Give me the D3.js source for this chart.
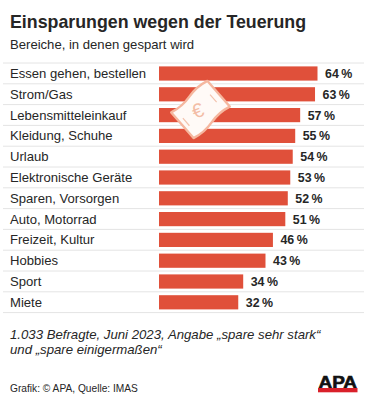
<!DOCTYPE html>
<html>
<head>
<meta charset="utf-8">
<script src="https://cdn.jsdelivr.net/npm/d3@7"></script>
<style>
  html, body { margin: 0; padding: 0; background: #fff; }
  svg { display: block; font-family: "Liberation Sans", Arial, sans-serif; }
</style>
</head>
<body>
<svg id="chart" width="367" height="400"></svg>
<script>
const categories = ["Essen gehen, bestellen", "Strom/Gas", "Lebensmitteleinkauf", "Kleidung, Schuhe",
    "Urlaub", "Elektronische Geräte", "Sparen, Vorsorgen", "Auto, Motorrad",
    "Freizeit, Kultur", "Hobbies", "Sport", "Miete"];
const values = [64, 63, 57, 55, 54, 53, 52, 51, 46, 43, 34, 32];

const BAR_FILL = "#e0503a";
const RULE = "#e4e4e4";
const INK = "#262626";

const svg = d3.select("#chart");

const x = d3.scaleLinear().domain([0, 64]).range([159, 317.5]);
const y = d3.scaleBand().domain(categories).range([63, 312.6]).paddingInner(0).paddingOuter(0);

svg.append("text").attr("x", 10).attr("y", 28)
    .attr("font-size", "17.8px").attr("font-weight", "bold").attr("fill", INK)
    .text("Einsparungen wegen der Teuerung");
svg.append("text").attr("x", 10).attr("y", 49)
    .attr("font-size", "13.1px").attr("fill", INK)
    .text("Bereiche, in denen gespart wird");

// Row rules
svg.append("g").selectAll("line")
    .data(categories.concat("end"))
    .join("line")
    .attr("x1", 3).attr("x2", 364)
    .attr("y1", (d, i) => i < categories.length ? y(d) : y.range()[1])
    .attr("y2", (d, i) => i < categories.length ? y(d) : y.range()[1])
    .attr("stroke", RULE).attr("stroke-width", 1);

svg.append("g").selectAll("rect")
    .data(values)
    .join("rect")
    .attr("x", x(0))
    .attr("y", (d, i) => y(categories[i]) + 3.4)
    .attr("width", d => x(d) - x(0))
    .attr("height", 14.2)
    .attr("fill", BAR_FILL);

svg.append("g").selectAll("text")
    .data(categories)
    .join("text")
    .attr("x", 10)
    .attr("y", d => y(d) + y.bandwidth() / 2 + 4.6)
    .attr("font-size", "13.1px").attr("fill", INK)
    .text(d => d);

// Value labels, thin space before the percent sign
svg.append("g").selectAll("text")
    .data(values)
    .join("text")
    .attr("x", d => x(d) + 7.5)
    .attr("y", (d, i) => y(categories[i]) + y.bandwidth() / 2 + 4.6)
    .attr("font-size", "12.4px").attr("font-weight", "bold").attr("fill", INK)
    .text(d => d + "\u2009%");

// Banknote icon over the bars
const note = svg.append("g").attr("transform", "translate(200.5,109.5) rotate(-41)");
note.append("path")
    .attr("d", "M-24,-17 Q-12,-14 0,-17 T24,-17 L24,17 Q12,14 0,17 T-24,17 Z")
    .attr("fill", "#fffaf7").attr("stroke", "#f5b79f").attr("stroke-width", 2.4)
    .attr("stroke-linejoin", "round");
note.append("text").attr("text-anchor", "middle").attr("x", -3).attr("y", 7)
    .attr("font-size", "20px").attr("fill", "#f3bda6").attr("transform", "rotate(20)").text("€");
note.append("path")
    .attr("d", "M17,-5 L17,5 M-19,-5 L-19,5")
    .attr("stroke", "#f3c3ae").attr("stroke-width", 1.2).attr("fill", "none");

svg.append("text").attr("x", 10).attr("y", 339)
    .attr("font-size", "13.2px").attr("font-style", "italic").attr("fill", INK)
    .text("1.033 Befragte, Juni 2023, Angabe „spare sehr stark“");
svg.append("text").attr("x", 10).attr("y", 354)
    .attr("font-size", "13.2px").attr("font-style", "italic").attr("fill", INK)
    .text("und „spare einigermaßen“");

svg.append("text").attr("x", 10).attr("y", 391.5)
    .attr("font-size", "10.2px").attr("fill", INK)
    .text("Grafik: © APA, Quelle: IMAS");

// APA logo
svg.append("text").attr("x", 318.5).attr("y", 388)
    .attr("font-size", "16px").attr("font-weight", "bold").attr("fill", "#111")
    .attr("stroke", "#111").attr("stroke-width", 0.6)
    .attr("textLength", 38.5).attr("lengthAdjust", "spacingAndGlyphs")
    .text("APA");
svg.append("rect").attr("x", 318).attr("y", 388).attr("width", 39.5).attr("height", 4.3).attr("fill", "#d9202a");
</script>
</body>
</html>
